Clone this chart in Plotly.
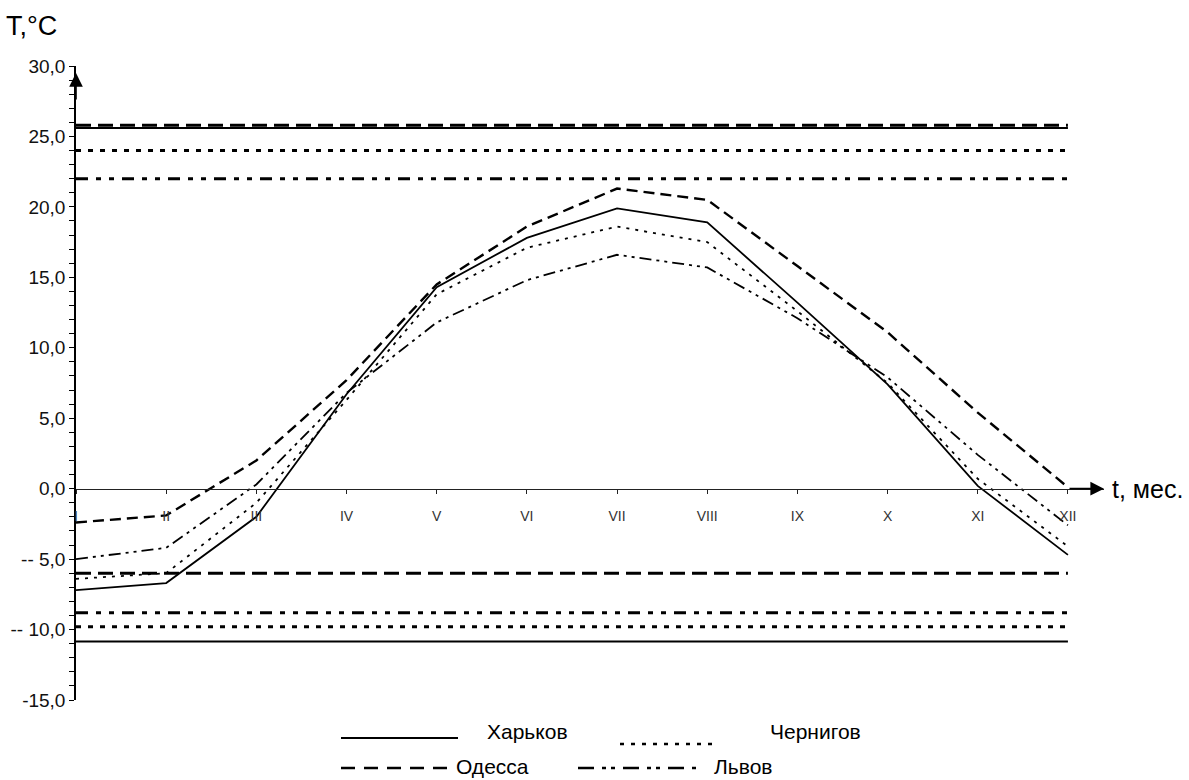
import plotly.graph_objects as go

# ---------------- data ----------------
months = ["I", "II", "III", "IV", "V", "VI", "VII", "VIII", "IX", "X", "XI", "XII"]
month_num = list(range(1, 13))

kharkov = [-7.2, -6.7, -2.0, 6.7, 14.3, 17.8, 19.9, 18.9, 13.2, 7.4, 0.2, -4.7]
odessa = [-2.4, -1.9, 2.0, 7.7, 14.5, 18.6, 21.3, 20.5, 15.8, 11.1, 5.4, 0.1]
chernigov = [-6.4, -6.0, -1.0, 6.3, 13.8, 17.1, 18.6, 17.5, 12.6, 7.5, 0.7, -4.1]
lviv = [-5.0, -4.2, 0.3, 6.8, 11.8, 14.8, 16.6, 15.7, 12.1, 7.9, 2.4, -2.6]

# horizontal reference levels (upper / lower)
kharkov_hi, kharkov_lo = 25.6, -10.85
odessa_hi, odessa_lo = 25.8, -6.0
chernigov_hi, chernigov_lo = 24.0, -9.8
lviv_hi, lviv_lo = 22.0, -8.8

y_tickvals = [-15, -10, -5, 0, 5, 10, 15, 20, 25, 30]
y_ticktext = ["-15,0", "-- 10,0", "-- 5,0", "0,0", "5,0", "10,0", "15,0", "20,0", "25,0", "30,0"]

# ---------------- layout geometry ----------------
W, H = 1189, 780
ML, MR, MT, MB = 76, 85, 66, 80
PW, PH = W - ML - MR, H - MT - MB
FONT = "Arial, Liberation Sans, sans-serif"

def px(x):
    return (x - ML) / PW

def py(y):
    return (H - MB - y) / PH

styles = {
    "Харьков": dict(color="black", width=1.8, dash="solid"),
    "Одесса": dict(color="black", width=2.4, dash="11px,6px"),
    "Чернигов": dict(color="black", width=1.8, dash="3px,6px"),
    "Львов": dict(color="black", width=1.8, dash="12px,5px,3px,5px,3px,5px"),
}
hstyles = {
    "Харьков": dict(color="black", width=2.0, dash="solid"),
    "Одесса": dict(color="black", width=3.0, dash="15px,7px"),
    "Чернигов": dict(color="black", width=3.0, dash="5px,7px"),
    "Львов": dict(color="black", width=3.0, dash="12px,8px,5px,8px,5px,8px"),
}

fig = go.Figure()

levels = [
    ("Одесса", odessa_hi, odessa_lo),
    ("Харьков", kharkov_hi, kharkov_lo),
    ("Чернигов", chernigov_hi, chernigov_lo),
    ("Львов", lviv_hi, lviv_lo),
]
for name, hi, lo in levels:
    for v in (hi, lo):
        fig.add_trace(go.Scatter(x=[month_num[0], month_num[-1]], y=[v, v], mode="lines",
                                 line=hstyles[name], showlegend=False, hoverinfo="skip"))

for name, vals in [("Харьков", kharkov), ("Одесса", odessa), ("Чернигов", chernigov), ("Львов", lviv)]:
    fig.add_trace(go.Scatter(x=month_num, y=vals, mode="lines", name=name,
                             line=styles[name], showlegend=False))

ann = []
# axis arrows
ann.append(dict(x=1, y=29.5, xref="x", yref="y", ax=0, ay=28, axref="pixel", ayref="pixel",
                text="", showarrow=True, arrowhead=2, arrowsize=1.7, arrowwidth=1.6,
                arrowcolor="black", standoff=0))
ann.append(dict(x=12.4, y=0, xref="x", yref="y", ax=-36, ay=0, text="", showarrow=True,
                arrowhead=2, arrowsize=1.7, arrowwidth=1.6, arrowcolor="black", standoff=0))
# axis titles
ann.append(dict(x=px(4), y=py(26), xref="paper", yref="paper", text="T,°C", showarrow=False,
                xanchor="left", yanchor="middle", font=dict(family=FONT, size=27, color="black")))
ann.append(dict(x=px(1110), y=0, xref="paper", yref="y", text="t, мес.", showarrow=False,
                xanchor="left", yanchor="middle", font=dict(family=FONT, size=25, color="black")))

# custom legend
shapes = []
leg = [
    ("Харьков", 341, 458, 738, 485, 731),
    ("Чернигов", 620, 712, 744, 768, 731),
    ("Одесса", 341, 456, 768, 454, 766),
    ("Львов", 578, 700, 768, 712, 766),
]
for name, x0, x1, ys, xt, yt in leg:
    st = dict(styles[name])
    st["width"] = 2.5 if name != "Харьков" else 2.0
    if name == "Чернигов":
        st["dash"] = "4px,7px"
    if name == "Одесса":
        st["dash"] = "14px,9px"
    if name == "Львов":
        st["dash"] = "16px,8px,4px,5px,4px,8px"
    shapes.append(dict(type="line", xref="paper", yref="paper", x0=px(x0), x1=px(x1),
                       y0=py(ys), y1=py(ys), line=st))
    ann.append(dict(x=px(xt), y=py(yt), xref="paper", yref="paper", text=name, showarrow=False,
                    xanchor="left", yanchor="middle", font=dict(family=FONT, size=21, color="black")))

fig.update_layout(
    width=W, height=H,
    margin=dict(l=ML, r=MR, t=MT, b=MB, pad=0),
    plot_bgcolor="white", paper_bgcolor="white",
    font=dict(family=FONT, color="black"),
    showlegend=False,
    annotations=ann,
    shapes=shapes,
    xaxis=dict(range=[1, 12.4], tickvals=month_num, ticktext=months, anchor="free",
               position=15 / 45, showline=True, linecolor="#222", linewidth=1,
               ticks="outside", ticklen=4, tickcolor="#222", ticklabelstandoff=11,
               showgrid=False, zeroline=False, tickfont=dict(family=FONT, size=14, color="#333")),
    yaxis=dict(range=[-15, 30], tickvals=y_tickvals, ticktext=y_ticktext, showline=True,
               linecolor="black", linewidth=1.5, ticks="outside", ticklen=5, tickcolor="black",
               ticklabelstandoff=0,
               minor=dict(dtick=1, ticks="outside", ticklen=5, tickcolor="black", showgrid=False),
               showgrid=False, zeroline=False, tickfont=dict(family=FONT, size=19, color="#111")),
)

fig.write_html("out.html", config={"displayModeBar": False},
               post_script="document.body.style.margin='0';document.body.style.overflow='hidden';")
